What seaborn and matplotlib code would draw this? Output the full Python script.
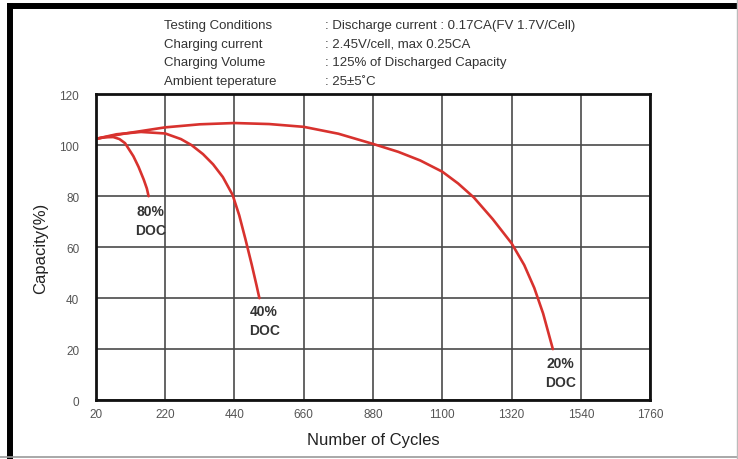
import numpy as np
import pandas as pd
import matplotlib
matplotlib.use("Agg")
import matplotlib.pyplot as plt
from matplotlib.lines import Line2D
import seaborn as sns

# ---- data ----
x_ticks = [20, 220, 440, 660, 880, 1100, 1320, 1540, 1760]
y_ticks = [0, 20, 40, 60, 80, 100, 120]

doc80_cycles = [20, 45, 70, 88, 104, 128, 143, 158, 167, 172]
doc80_cap = [102.5, 103.1, 103.2, 102.4, 100.8, 95.7, 91.5, 86.5, 83.0, 80.0]

doc40_cycles = [20, 80, 150, 220, 270, 304, 340, 372, 403, 434, 455, 475, 495, 510, 519]
doc40_cap = [102.5, 104.3, 105.2, 104.6, 102.4, 100.0, 96.5, 92.5, 87.5, 80.5, 72.5, 63.0, 53.0, 45.0, 40.0]

doc20_cycles = [20, 100, 220, 330, 440, 550, 660, 770, 880, 960, 1030, 1100, 1150, 1200,
                1260, 1320, 1360, 1392, 1420, 1451]
doc20_cap = [102.5, 104.5, 107.0, 108.2, 108.7, 108.3, 107.2, 104.5, 100.5, 97.4, 94.0, 89.6,
             85.0, 79.5, 71.0, 61.5, 53.0, 44.0, 34.0, 20.0]

series_names = ["80% DOC", "40% DOC", "20% DOC"]
labels = ["80%\nDOC", "40%\nDOC", "20%\nDOC"]
label_pos = [(178, 70.5), (534, 31.3), (1474, 11.0)]

header_left = ["Testing Conditions", "Charging current", "Charging Volume", "Ambient teperature"]
header_right = [": Discharge current : 0.17CA(FV 1.7V/Cell)", ": 2.45V/cell, max 0.25CA",
                ": 125% of Discharged Capacity", ": 25\u00b15\u02daC"]

frames = []
for name, xs, ys in [(series_names[0], doc80_cycles, doc80_cap),
                     (series_names[1], doc40_cycles, doc40_cap),
                     (series_names[2], doc20_cycles, doc20_cap)]:
    frames.append(pd.DataFrame({"cycles": xs, "capacity": ys, "series": name}))
df = pd.concat(frames, ignore_index=True)

sns.set_theme(style="white")
plt.rcParams['font.family'] = ['Liberation Sans', 'DejaVu Sans']

fig = plt.figure(figsize=(7.38, 4.60), dpi=100)
ax = fig.add_axes([0.130, 0.128, 0.751, 0.665])

red = "#d8322e"
sns.lineplot(data=df, x="cycles", y="capacity", hue="series", sort=False, estimator=None,
             palette=[red, red, red], linewidth=1.9, legend=False, ax=ax)
for ln in ax.get_lines():
    ln.set_solid_joinstyle("round")

# equally spaced cycle ticks
pos = np.arange(len(x_ticks), dtype=float)
tick_arr = np.array(x_ticks, dtype=float)
fwd = lambda v: np.interp(v, tick_arr, pos)
inv = lambda v: np.interp(v, pos, tick_arr)
ax.set_xscale("function", functions=(fwd, inv))
ax.set_xlim(x_ticks[0], x_ticks[-1])
ax.set_ylim(0, 120)
ax.set_xticks(x_ticks)
ax.set_xticklabels([str(t) for t in x_ticks])
ax.set_yticks(y_ticks)
ax.set_yticklabels([str(t) for t in y_ticks])

ax.grid(True, color="#4a4a4a", linewidth=1.2)
ax.set_axisbelow(True)
for s in ax.spines.values():
    s.set_visible(True)
    s.set_color("#111111")
    s.set_linewidth(2.0)
ax.tick_params(axis="both", length=0, labelsize=8.5, labelcolor="#555555")
ax.tick_params(axis="y", pad=12)
ax.tick_params(axis="x", pad=6)

ax.set_xlabel("Number of Cycles", fontsize=12, color="#222222", labelpad=8)
ax.set_ylabel("Capacity(%)", fontsize=12, color="#222222", labelpad=8)

for txt, (px, py) in zip(labels, label_pos):
    ax.text(px, py, txt, ha="center", va="center", fontsize=10, fontweight="bold",
            color="#333333", linespacing=1.45)

# header block
ys = [0.944, 0.903, 0.862, 0.821]
for yy, l, r in zip(ys, header_left, header_right):
    fig.text(0.222, yy, l, fontsize=9.5, color="#333333", va="center")
    fig.text(0.440, yy, r, fontsize=9.5, color="#333333", va="center")

# image border
W, H = 738.0, 460.0
fig.add_artist(Line2D([7 / W, 1], [1 - 7 / H, 1 - 7 / H], color="black", linewidth=4.3,
                      transform=fig.transFigure, solid_capstyle="butt"))
fig.add_artist(Line2D([10 / W, 10 / W], [0, 1 - 4 / H], color="black", linewidth=4.3,
                      transform=fig.transFigure, solid_capstyle="butt"))
fig.add_artist(Line2D([0, 1], [2 / H, 2 / H], color="#999999", linewidth=1.2,
                      transform=fig.transFigure))
fig.add_artist(Line2D([1 - 1.5 / W, 1 - 1.5 / W], [0, 1], color="#bbbbbb", linewidth=1.0,
                      transform=fig.transFigure))

fig.savefig("out.png", dpi=100)
